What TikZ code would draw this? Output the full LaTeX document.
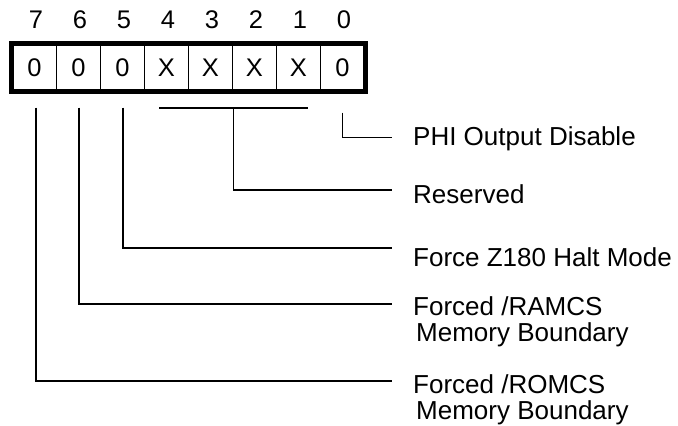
\documentclass[tikz,border=0pt]{standalone}
\usepackage{fontspec}
\setmainfont{Liberation Sans}
\usetikzlibrary{calc}
\begin{document}
\begin{tikzpicture}[x=1pt,y=-1pt,
  cell/.style={draw,line width=1.2pt,minimum width=44pt,minimum height=46pt,inner sep=0pt,font=\fontsize{25.5}{28}\selectfont},
  bitnum/.style={inner sep=0pt,font=\fontsize{25.5}{28}\selectfont},
  lbl/.style={anchor=base west,inner sep=0pt,font=\fontsize{26}{28}\selectfont},
  conn/.style={line width=1.8pt}]
\useasboundingbox (0,0) rectangle (678,426);
% cells
\foreach \b/\v [count=\i from 0] in {7/0,6/0,5/0,4/X,3/X,2/X,1/X,0/0}{
  \node[cell] (c\b) at (34.5+44*\i,67.5) {\v};
  \node[bitnum] (n\b) at (36+44*\i,20) {\b};
}
\draw[line width=5pt] (c7.north west) rectangle (c0.south east);
% labels
\node[lbl] (l0) at (413,145) {PHI Output Disable};
\node[lbl] (l1) at (413,203) {Reserved};
\node[lbl] (l2) at (413,266) {Force Z180 Halt Mode};
\node[lbl] (l3a) at (413,315) {Forced /RAMCS};
\node[lbl] (l3b) at (416,341) {Memory Boundary};
\node[lbl] (l4a) at (413,393) {Forced /ROMCS};
\node[lbl] (l4b) at (416,419) {Memory Boundary};
% line ends
\coordinate (e0) at (392,137.5);
\coordinate (e1) at (392,190);
\coordinate (e2) at (392,248);
\coordinate (e3) at (392,304);
\coordinate (e4) at (392,381);
% bracket for bits 4..1
\coordinate (b4) at ($(c4.south)+(-7.5,16.5)$);
\coordinate (b1) at ($(c1.south)+(9.5,16.5)$);
\draw[conn] (b4) -- (b1);
\coordinate (bm) at ($(b4)!0.5!(b1)$);
% connectors
\draw[conn] ($(c0.south)+(0,21.5)$) |- (e0);
\draw[conn] (bm) |- (e1);
\draw[conn] ($(c5.south)+(0.5,16.5)$) |- (e2);
\draw[conn] ($(c6.south)+(0.5,16.5)$) |- (e3);
\draw[conn] ($(c7.south)+(1.5,16.5)$) |- (e4);
\end{tikzpicture}
\end{document}
